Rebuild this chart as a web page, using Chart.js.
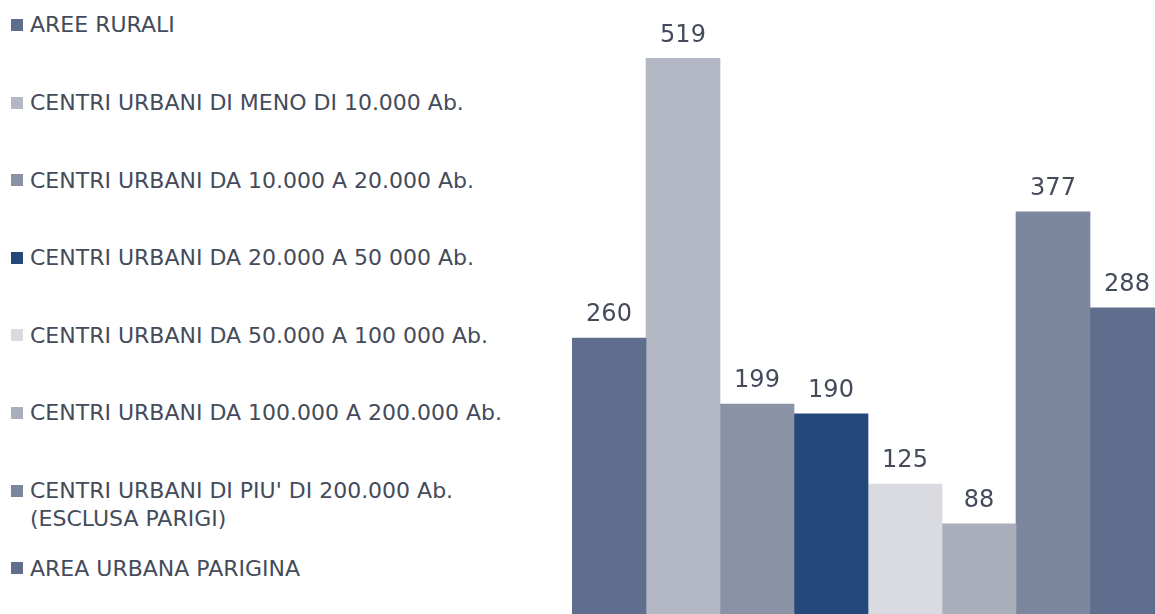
<!DOCTYPE html>
<html>
<head>
<meta charset="utf-8">
<script src="https://cdn.jsdelivr.net/npm/chart.js@4.4.0/dist/chart.umd.min.js"></script>
<style>
  html, body { margin: 0; padding: 0; background: #fff; overflow: hidden; width: 1155px; height: 614px; }
  #legend { position: absolute; left: 0; top: 0; width: 570px; height: 614px; }
  .item { position: absolute; left: 0; font-family: "DejaVu Sans", sans-serif; font-weight: 400; font-size: 22px; line-height: 28px; color: #444b5b; }
  .item .box { position: absolute; left: 11px; width: 12px; height: 12px; }
  .item .txt { position: absolute; left: 30px; white-space: pre; }
  #wrap { position: absolute; left: 572px; top: 0; width: 592px; height: 619px; }
</style>
</head>
<body>
<div id="legend"></div>
<div id="wrap"><canvas id="chart"></canvas></div>
<script>
// series names (legend) and their values
const seriesNames = [
  'AREE RURALI',
  'CENTRI URBANI DI MENO DI 10.000 Ab.',
  'CENTRI URBANI DA 10.000 A 20.000 Ab.',
  'CENTRI URBANI DA 20.000 A 50 000 Ab.',
  'CENTRI URBANI DA 50.000 A 100 000 Ab.',
  'CENTRI URBANI DA 100.000 A 200.000 Ab.',
  "CENTRI URBANI DI PIU' DI 200.000 Ab.\n(ESCLUSA PARIGI)",
  'AREA URBANA PARIGINA'
];
const seriesValues = [260, 519, 199, 190, 125, 88, 377, 288];
const seriesColors = ['#5f6e8c', '#b3b8c4', '#8a92a6', '#24487a', '#d9dbe0', '#a8aeba', '#7c869e', '#5f6e8c'];
const categories = [''];

// html legend on the left
const legendEl = document.getElementById('legend');
seriesNames.forEach((name, i) => {
  const center = 25 + i * 77.6;
  const item = document.createElement('div');
  item.className = 'item';
  item.style.top = (center - 13.6) + 'px';
  const box = document.createElement('div');
  box.className = 'box';
  box.style.top = '7.6px';
  box.style.background = seriesColors[i];
  const txt = document.createElement('div');
  txt.className = 'txt';
  txt.textContent = name;
  item.appendChild(box);
  item.appendChild(txt);
  legendEl.appendChild(item);
});

// value labels above each bar
const valueLabels = {
  id: 'valueLabels',
  afterDatasetsDraw(chart) {
    const ctx = chart.ctx;
    ctx.save();
    ctx.font = '24px "DejaVu Sans"';
    ctx.fillStyle = '#444b5b';
    ctx.textAlign = 'center';
    ctx.textBaseline = 'middle';
    chart.data.datasets.forEach((ds, i) => {
      const bar = chart.getDatasetMeta(i).data[0];
      ctx.fillText(String(ds.data[0]), bar.x, bar.y - 23);
    });
    ctx.restore();
  }
};

const datasets = seriesNames.map((name, i) => ({
  label: name,
  data: [seriesValues[i]],
  backgroundColor: seriesColors[i],
  borderWidth: 0,
  categoryPercentage: 1,
  barPercentage: 1
}));

new Chart(document.getElementById('chart'), {
  type: 'bar',
  data: { labels: categories, datasets: datasets },
  options: {
    responsive: true,
    maintainAspectRatio: false,
    animation: false,
    layout: { padding: 0 },
    plugins: { legend: { display: false }, tooltip: { enabled: false } },
    scales: {
      x: { display: false },
      y: { display: false, min: 0, max: 573 }
    }
  },
  plugins: [valueLabels]
});
</script>
</body>
</html>
